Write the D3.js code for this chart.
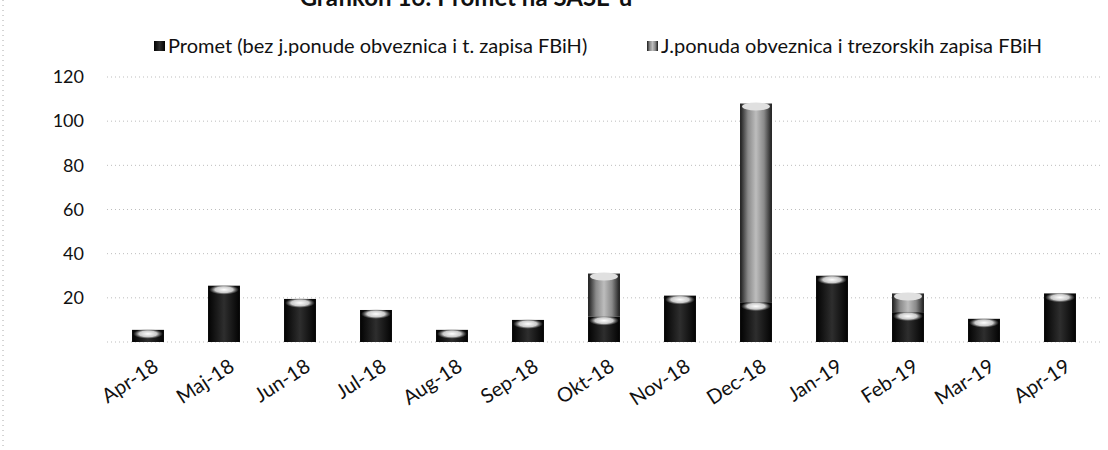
<!DOCTYPE html>
<html>
<head>
<meta charset="utf-8">
<script src="https://cdn.jsdelivr.net/npm/d3@7"></script>
<style>
  body { margin: 0; background: #fff; }
  text { font-family: Lato, "Open Sans", sans-serif; fill: #111; }
</style>
</head>
<body>
<script>
// chart data
const months = ["Apr-18","Maj-18","Jun-18","Jul-18","Aug-18","Sep-18","Okt-18","Nov-18","Dec-18","Jan-19","Feb-19","Mar-19","Apr-19"];
const promet = [5.5, 25.5, 19.5, 14.5, 5.5, 10, 11.5, 21, 18, 30, 13.5, 10.5, 22];
const jponuda = [0, 0, 0, 0, 0, 0, 19.5, 0, 90, 0, 8.5, 0, 0];
const yTicks = [20, 40, 60, 80, 100, 120];
const seriesNames = ["Promet (bez j.ponude obveznica i t. zapisa FBiH)", "J.ponuda obveznica i trezorskih zapisa FBiH"];

const width = 1108, height = 450;

const svg = d3.select("body").append("svg")
    .attr("width", width)
    .attr("height", height);

const defs = svg.append("defs");

// dark cylinder look
const gDark = defs.append("linearGradient").attr("id", "gDark");
gDark.append("stop").attr("offset", "0%").attr("stop-color", "#020202");
gDark.append("stop").attr("offset", "50%").attr("stop-color", "#2e2e2e");
gDark.append("stop").attr("offset", "100%").attr("stop-color", "#020202");

const gLight = defs.append("linearGradient").attr("id", "gLight");
gLight.append("stop").attr("offset", "0%").attr("stop-color", "#1a1a1a");
gLight.append("stop").attr("offset", "25%").attr("stop-color", "#8a8a8a");
gLight.append("stop").attr("offset", "50%").attr("stop-color", "#bdbdbd");
gLight.append("stop").attr("offset", "75%").attr("stop-color", "#8a8a8a");
gLight.append("stop").attr("offset", "100%").attr("stop-color", "#1a1a1a");

const gTop = defs.append("radialGradient").attr("id", "gTop");
gTop.append("stop").attr("offset", "0%").attr("stop-color", "#fff").attr("stop-opacity", 1);
gTop.append("stop").attr("offset", "60%").attr("stop-color", "#ddd").attr("stop-opacity", 0.9);
gTop.append("stop").attr("offset", "100%").attr("stop-color", "#888").attr("stop-opacity", 0);

const x = d3.scaleBand()
    .domain(months)
    .range([110, 1098])
    .paddingInner(0.58)
    .paddingOuter(0.29);

const y = d3.scaleLinear()
    .domain([0, 120])
    .range([342, 77]);

// scan border at left
svg.append("line")
    .attr("x1", 3).attr("x2", 3).attr("y1", 0).attr("y2", height)
    .attr("stroke", "#aaa").attr("stroke-dasharray", "1,4");

// title, cut off at the top as in the scan
svg.append("text")
    .attr("x", 466).attr("y", 6)
    .attr("text-anchor", "middle")
    .style("font-weight", "bold")
    .style("font-size", "24px")
    .text("Grafikon 16: Promet na SASE-u");

// gridlines
svg.append("g")
  .selectAll("line")
  .data([0].concat(yTicks))
  .join("line")
    .attr("x1", 107).attr("x2", 1100)
    .attr("y1", d => y(d)).attr("y2", d => y(d))
    .attr("stroke", "#bdbdbd")
    .attr("stroke-dasharray", "1,3");

// y axis labels
const yAxis = svg.append("g")
    .attr("transform", "translate(84,0)")
    .call(d3.axisLeft(y).tickValues(yTicks).tickSize(0).tickPadding(0));
yAxis.select(".domain").remove();
yAxis.selectAll("text")
    .style("font-family", "Lato, sans-serif")
    .style("font-size", "18px")
    .attr("fill", "#111");

// bars
const bw = x.bandwidth();
const bars = svg.append("g");

months.forEach((m, i) => {
    const x0 = x(m);
    // gray part stacked on top
    if (jponuda[i] > 0) {
        const yt = y(promet[i] + jponuda[i]);
        bars.append("rect")
            .attr("x", x0).attr("y", yt)
            .attr("width", bw).attr("height", y(promet[i]) - yt)
            .attr("fill", "url(#gLight)");
        bars.append("ellipse")
            .attr("cx", x0 + bw / 2).attr("cy", yt + 3)
            .attr("rx", bw / 2 - 2).attr("ry", 4)
            .attr("fill", "#e0e0e0");
    }
    const yp = y(promet[i]);
    bars.append("rect")
        .attr("x", x0).attr("y", yp)
        .attr("width", bw).attr("height", y(0) - yp)
        .attr("fill", "url(#gDark)");
    bars.append("ellipse")
        .attr("cx", x0 + bw / 2).attr("cy", yp + 4)
        .attr("rx", bw / 2 - 1).attr("ry", 5)
        .attr("fill", "url(#gTop)");
});

// x labels, rotated
svg.append("g")
  .selectAll("text")
  .data(months)
  .join("text")
    .attr("transform", d => `translate(${x(d) + bw / 2 + 4},${358}) rotate(-33)`)
    .attr("text-anchor", "end")
    .attr("dy", "0.7em")
    .style("font-size", "20px")
    .text(d => d);

// legend
const legend = svg.append("g");
const lx = [154, 647];
seriesNames.forEach((name, i) => {
    legend.append("rect")
        .attr("x", lx[i]).attr("y", 41)
        .attr("width", 11).attr("height", 10)
        .attr("fill", i === 0 ? "url(#gDark)" : "url(#gLight)");
    legend.append("text")
        .attr("x", lx[i] + 14).attr("y", 53)
        .style("font-size", "20px")
        .text(name);
});
</script>
</body>
</html>
